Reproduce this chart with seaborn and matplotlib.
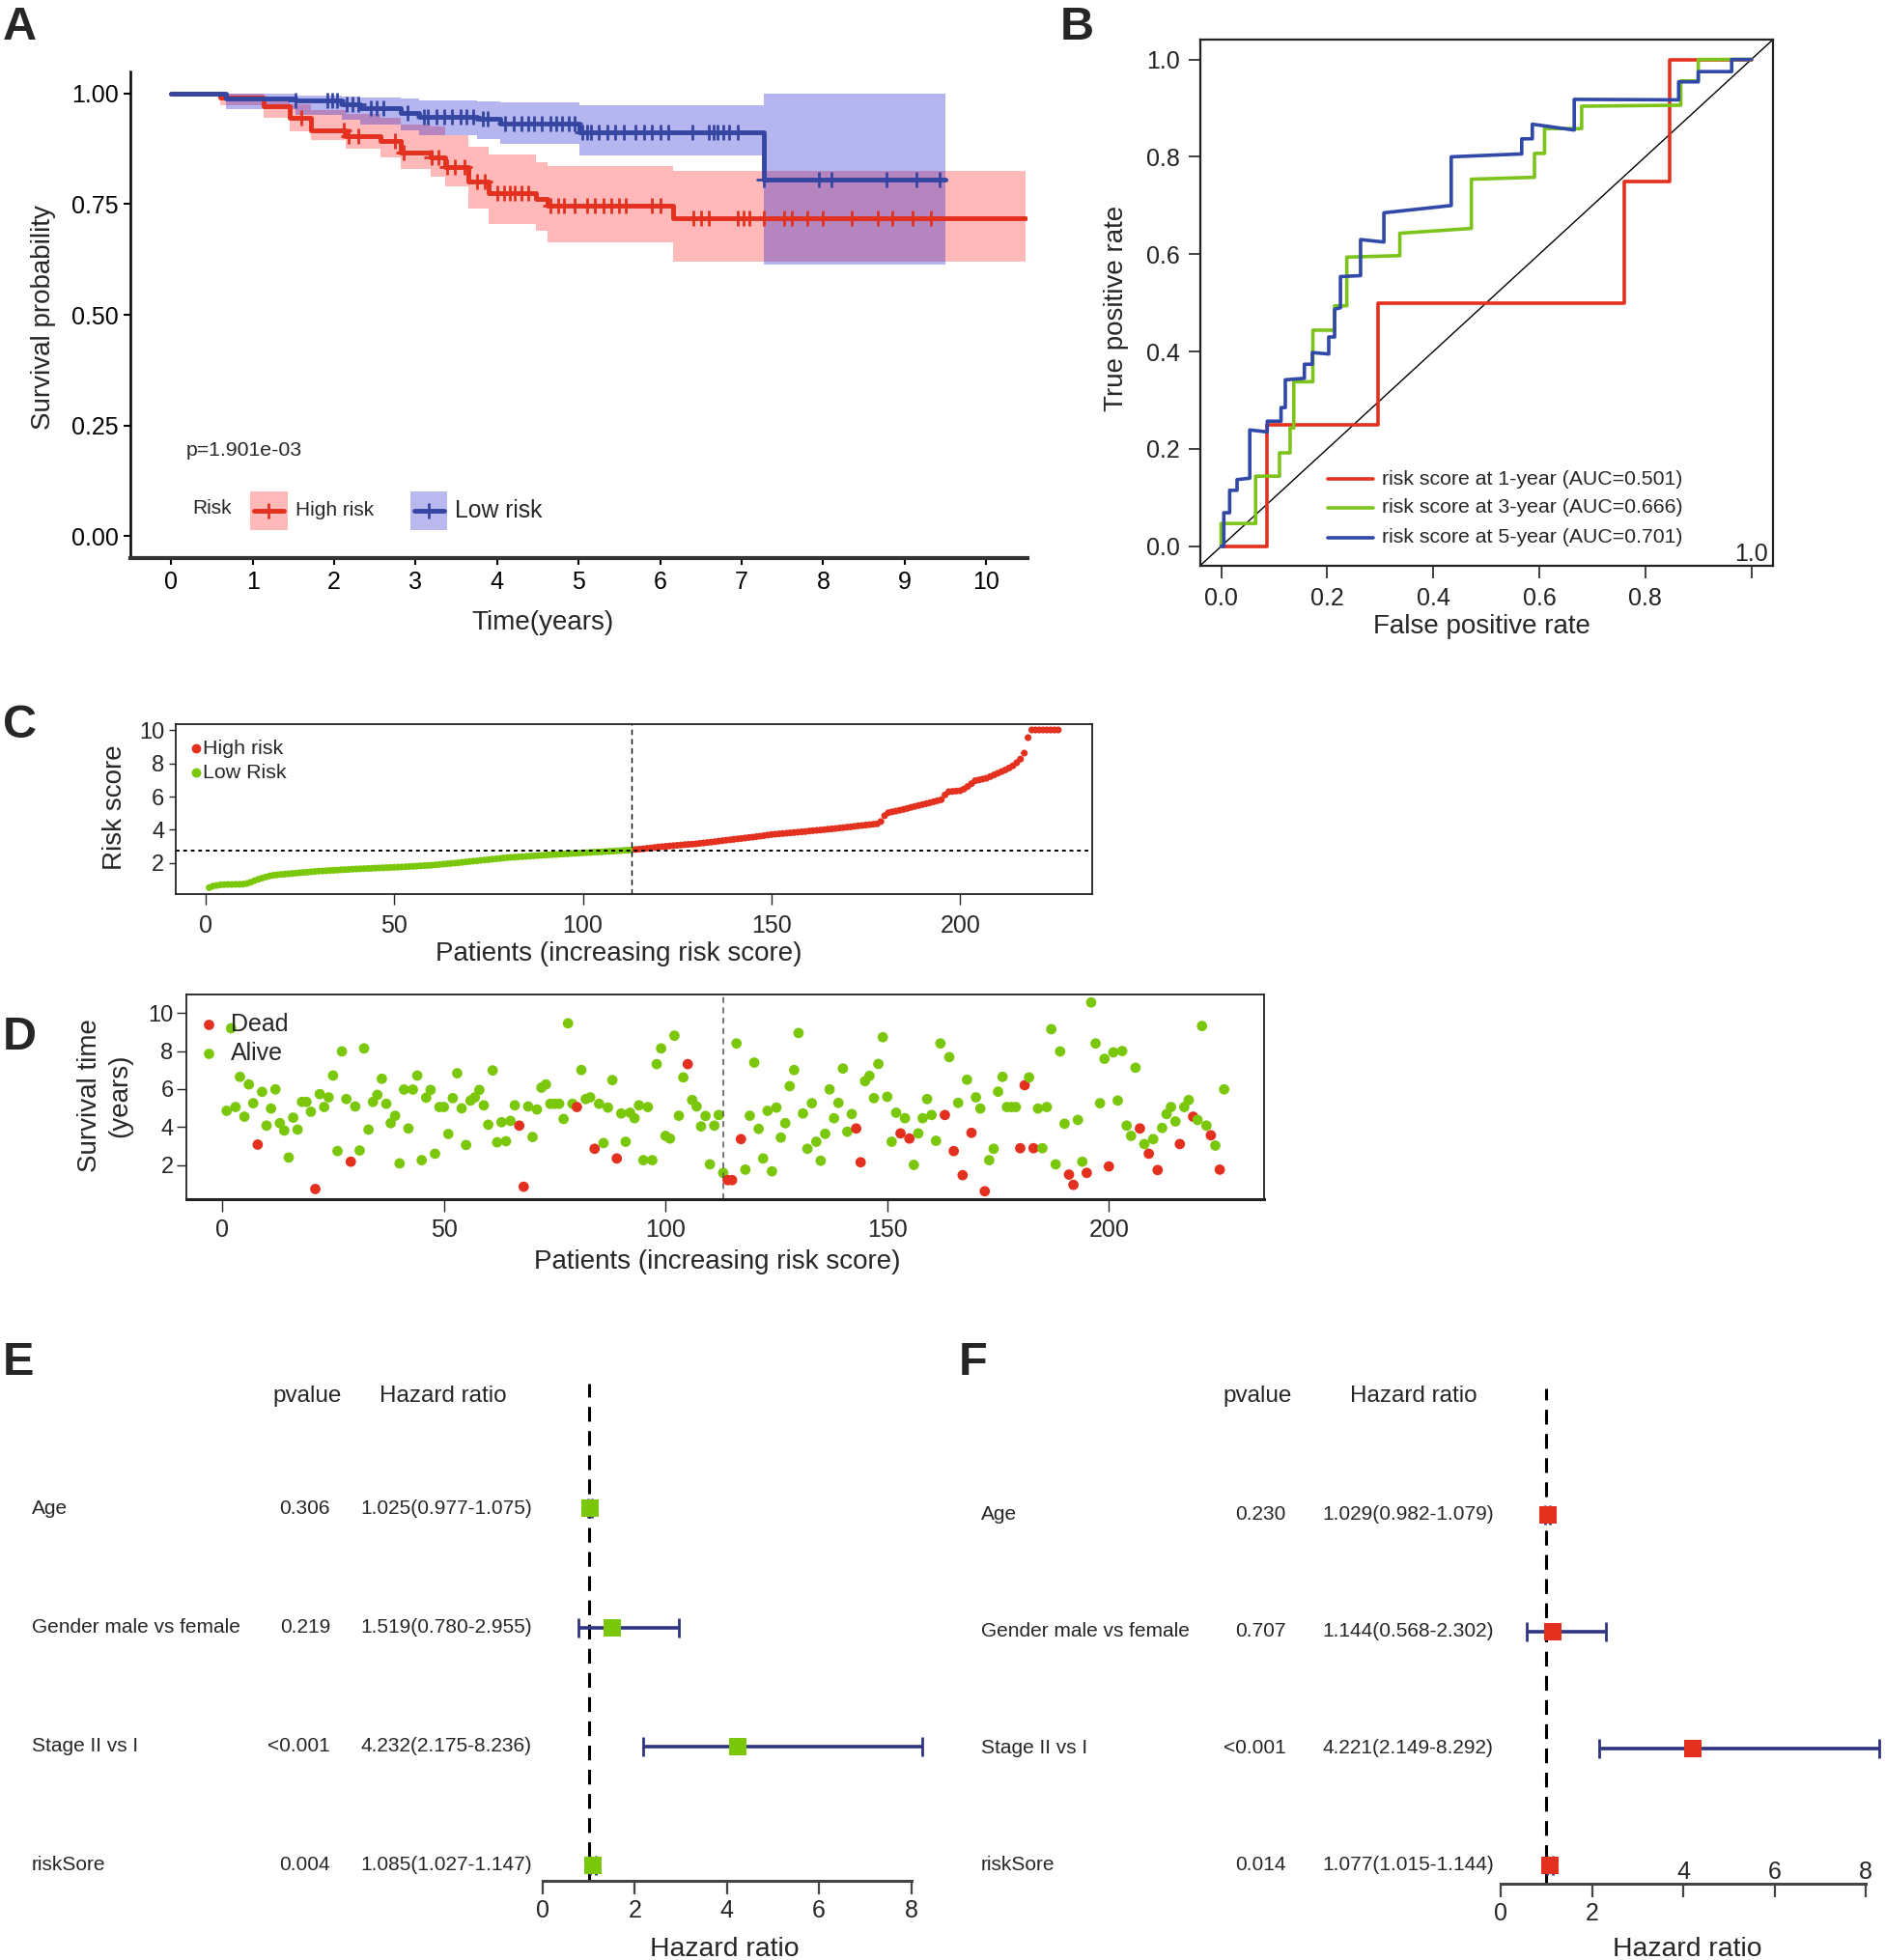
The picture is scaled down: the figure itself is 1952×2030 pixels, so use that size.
import numpy as np
import pandas as pd
import matplotlib
matplotlib.use('Agg')
import matplotlib.pyplot as plt
import matplotlib.transforms as mtransforms
from matplotlib.patches import Rectangle
from matplotlib.lines import Line2D
import seaborn as sns

sns.set_style('ticks')
plt.rcParams['font.family'] = ['Liberation Sans', 'DejaVu Sans']

RED = '#E3301F'
BLUE = '#3445A2'
GREEN = '#7AC70C'
NAVY = '#2E3480'

# ---------------- A: Kaplan-Meier ----------------
high_t = [0, 0.60, 1.13, 1.46, 1.71, 2.14, 2.57, 2.82, 3.18, 3.36, 3.65, 3.90, 4.47, 4.62, 6.16, 10.48]
high_s = [1.0, 0.99, 0.972, 0.946, 0.917, 0.903, 0.892, 0.867, 0.856, 0.834, 0.801, 0.776, 0.762, 0.747, 0.718, 0.718]
high_lo = [1.0, 0.973, 0.945, 0.915, 0.895, 0.875, 0.855, 0.83, 0.812, 0.79, 0.74, 0.705, 0.69, 0.664, 0.62, 0.62]
high_hi = [1.0, 1.0, 0.985, 0.975, 0.962, 0.955, 0.946, 0.93, 0.925, 0.905, 0.88, 0.862, 0.845, 0.837, 0.825, 0.825]
high_cens = [1.6, 2.12, 2.18, 2.3, 2.75, 2.85, 3.2, 3.28, 3.38, 3.48, 3.6, 3.75, 3.85, 4.0, 4.08, 4.15,
             4.22, 4.3, 4.38, 4.65, 4.75, 4.82, 4.95, 5.1, 5.2, 5.3, 5.4, 5.5, 5.58, 5.9, 6.0, 6.41, 6.5,
             6.6, 6.95, 7.02, 7.09, 7.27, 7.52, 7.62, 7.8, 7.99, 8.35, 8.67, 8.85, 9.1, 9.32]

low_t = [0, 0.67, 1.53, 2.10, 2.32, 2.82, 3.04, 3.75, 4.04, 5.01, 7.27, 9.50]
low_s = [1.0, 0.988, 0.985, 0.975, 0.967, 0.957, 0.948, 0.943, 0.933, 0.912, 0.805, 0.805]
low_lo = [1.0, 0.965, 0.952, 0.940, 0.93, 0.917, 0.905, 0.897, 0.886, 0.861, 0.613, 0.613]
low_hi = [1.0, 1.0, 0.995, 0.993, 0.99, 0.988, 0.985, 0.982, 0.98, 0.973, 1.0, 1.0]
low_cens = [1.53, 1.92, 1.98, 2.03, 2.15, 2.22, 2.3, 2.45, 2.52, 2.6, 2.9, 3.1, 3.15, 3.25, 3.35, 3.45,
            3.55, 3.62, 3.7, 3.82, 3.88, 4.1, 4.2, 4.3, 4.38, 4.45, 4.55, 4.65, 4.72, 4.8, 4.88, 4.95,
            5.05, 5.1, 5.15, 5.25, 5.35, 5.45, 5.55, 5.7, 5.8, 5.9, 6.0, 6.1, 6.4, 6.6, 6.65, 6.7, 6.78,
            6.85, 6.95, 7.27, 7.95, 8.1, 8.78, 9.14, 9.43]

# ---------------- B: time-dependent ROC ----------------
roc1_fpr = [0, 0.087, 0.087, 0.295, 0.295, 0.76, 0.76, 0.846, 0.846, 1.0]
roc1_tpr = [0, 0, 0.25, 0.25, 0.5, 0.5, 0.75, 0.75, 1.0, 1.0]
roc3_fpr = [0, 0, 0.065, 0.065, 0.11, 0.11, 0.13, 0.13, 0.137, 0.137, 0.173, 0.173, 0.214, 0.214,
            0.237, 0.237, 0.337, 0.337, 0.472, 0.472, 0.591, 0.591, 0.61, 0.61, 0.68, 0.68, 0.867,
            0.867, 0.90, 0.90, 1.0]
roc3_tpr = [0, 0.047, 0.047, 0.144, 0.144, 0.192, 0.192, 0.243, 0.243, 0.338, 0.338, 0.444, 0.444,
            0.494, 0.494, 0.594, 0.597, 0.643, 0.653, 0.754, 0.758, 0.807, 0.807, 0.858, 0.858, 0.904,
            0.906, 0.956, 0.956, 1.0, 1.0]
roc5_fpr = [0, 0.005, 0.005, 0.016, 0.016, 0.03, 0.03, 0.054, 0.054, 0.087, 0.087, 0.113, 0.113,
            0.121, 0.121, 0.157, 0.157, 0.172, 0.172, 0.203, 0.203, 0.214, 0.214, 0.225, 0.225, 0.263,
            0.263, 0.307, 0.307, 0.434, 0.434, 0.567, 0.567, 0.587, 0.587, 0.666, 0.666, 0.863, 0.863,
            0.90, 0.90, 0.963, 0.963, 1.0]
roc5_tpr = [0, 0.0, 0.069, 0.069, 0.115, 0.115, 0.137, 0.14, 0.239, 0.235, 0.257, 0.257, 0.285,
            0.285, 0.342, 0.345, 0.374, 0.374, 0.398, 0.395, 0.43, 0.43, 0.487, 0.49, 0.554, 0.556,
            0.63, 0.625, 0.685, 0.70, 0.80, 0.806, 0.837, 0.837, 0.867, 0.855, 0.918, 0.917, 0.954,
            0.954, 0.975, 0.975, 1.0, 1.0]
roc_years = [1, 3, 5]
roc_auc = [0.501, 0.666, 0.701]

# ---------------- C: risk score per patient ----------------
risk_score = [
    0.53, 0.62, 0.66, 0.70, 0.71, 0.72, 0.72, 0.73, 0.73, 0.74,
    0.78, 0.85, 0.95, 1.03, 1.10, 1.17, 1.23, 1.27, 1.30, 1.32,
    1.34, 1.36, 1.38, 1.40, 1.42, 1.44, 1.46, 1.48, 1.50, 1.52,
    1.53, 1.54, 1.56, 1.57, 1.58, 1.60, 1.61, 1.62, 1.64, 1.65,
    1.66, 1.67, 1.68, 1.69, 1.70, 1.71, 1.72, 1.73, 1.74, 1.75,
    1.76, 1.77, 1.78, 1.80, 1.81, 1.82, 1.84, 1.85, 1.86, 1.88,
    1.90, 1.92, 1.94, 1.96, 1.98, 2.00, 2.02, 2.05, 2.07, 2.10,
    2.12, 2.14, 2.17, 2.19, 2.21, 2.24, 2.26, 2.28, 2.31, 2.33,
    2.35, 2.36, 2.38, 2.39, 2.41, 2.42, 2.44, 2.45, 2.47, 2.48,
    2.50, 2.51, 2.52, 2.54, 2.55, 2.56, 2.58, 2.59, 2.60, 2.62,
    2.63, 2.64, 2.66, 2.67, 2.68, 2.70, 2.71, 2.72, 2.74, 2.75,
    2.77, 2.78, 2.80,
    2.82, 2.84, 2.86, 2.89, 2.91, 2.94, 2.97,
    2.99, 3.01, 3.03, 3.05, 3.07, 3.09, 3.11, 3.13, 3.14, 3.16,
    3.19, 3.21, 3.24, 3.26, 3.29, 3.32, 3.35, 3.38, 3.40, 3.43,
    3.46, 3.48, 3.51, 3.54, 3.56, 3.59, 3.62, 3.65, 3.69, 3.72,
    3.74, 3.76, 3.78, 3.80, 3.82, 3.84, 3.86, 3.88, 3.90, 3.93,
    3.95, 3.97, 3.99, 4.01, 4.04, 4.06, 4.08, 4.11, 4.13, 4.16,
    4.18, 4.21, 4.24, 4.26, 4.29, 4.31, 4.34, 4.36, 4.50, 4.85,
    5.03, 5.08, 5.13, 5.18, 5.23, 5.29, 5.35, 5.41, 5.46, 5.52,
    5.57, 5.63, 5.69, 5.75, 5.81, 6.10, 6.29, 6.31, 6.33, 6.35,
    6.45, 6.60, 6.77, 6.95, 7.00, 7.05, 7.10, 7.20, 7.30, 7.40,
    7.50, 7.60, 7.72, 7.85, 8.03, 8.25, 8.61, 9.54, 10.0, 10.0,
    10.0, 10.0, 10.0, 10.0, 10.0, 10.0]
n_low = 113
risk_cutoff = 2.78

# ---------------- D: survival time / status ----------------
surv_time = [
    4.85, 9.20, 5.05, 6.64, 4.54, 6.24, 5.25, 3.07, 5.85, 4.07,
    4.97, 5.98, 4.20, 3.81, 2.39, 4.49, 3.86, 5.32, 5.32, 4.80,
    0.73, 5.73, 5.05, 5.56, 6.71, 2.73, 7.98, 5.47, 2.17, 5.08,
    2.76, 8.14, 3.86, 5.32, 5.69, 6.54, 5.22, 4.20, 4.59, 2.08,
    5.97, 3.92, 5.97, 6.71, 2.25, 5.54, 5.95, 2.59, 5.05, 5.05,
    3.63, 5.52, 6.83, 4.98, 3.05, 5.39, 5.56, 5.95, 5.14, 4.12,
    6.98, 3.19, 4.25, 3.25, 4.32, 5.14, 4.07, 0.85, 5.08, 3.47,
    4.92, 6.07, 6.24, 5.22, 5.22, 5.22, 4.42, 9.46, 5.22, 5.05,
    7.00, 5.47, 5.56, 2.85, 5.22, 3.15, 5.02, 6.47, 2.34, 4.71,
    3.22, 4.75, 4.46, 5.14, 2.25, 5.05, 2.25, 7.31, 8.14, 3.53,
    3.39, 8.81, 4.59, 6.61, 7.31, 5.42, 5.08, 4.03, 4.58, 2.03,
    4.07, 4.63, 1.58, 1.20, 1.20, 8.40, 3.36, 1.75, 4.59, 7.39,
    3.90, 2.34, 4.85, 1.66, 5.02, 3.44, 4.20, 6.15, 7.00, 8.95,
    4.71, 2.85, 5.25, 3.22, 2.22, 3.64, 5.98, 4.46, 5.27, 7.08,
    3.75, 4.68, 3.92, 2.14, 6.41, 6.69, 5.52, 7.32, 8.73, 5.59,
    3.22, 4.75, 3.66, 4.46, 3.39, 2.00, 3.66, 4.46, 5.47, 4.63,
    3.27, 8.40, 4.63, 7.68, 2.73, 5.27, 1.46, 6.49, 3.69, 5.56,
    4.97, 0.61, 2.25, 2.85, 5.86, 6.64, 5.05, 5.05, 5.05, 2.88,
    6.20, 6.61, 2.88, 4.97, 2.88, 5.05, 9.15, 2.03, 7.98, 4.17,
    1.49, 0.95, 4.37, 2.17, 1.58, 10.56, 8.40, 5.25, 7.59, 1.92,
    7.93, 5.39, 8.00, 4.07, 3.53, 7.12, 3.92, 3.10, 2.59, 3.36,
    1.73, 3.95, 4.68, 5.05, 4.29, 3.10, 5.05, 5.42, 4.54, 4.37,
    9.32, 4.07, 3.56, 3.02, 1.75, 5.98]
dead = [
    0, 0, 0, 0, 0, 0, 0, 1, 0, 0,
    0, 0, 0, 0, 0, 0, 0, 0, 0, 0,
    1, 0, 0, 0, 0, 0, 0, 0, 1, 0,
    0, 0, 0, 0, 0, 0, 0, 0, 0, 0,
    0, 0, 0, 0, 0, 0, 0, 0, 0, 0,
    0, 0, 0, 0, 0, 0, 0, 0, 0, 0,
    0, 0, 0, 0, 0, 0, 1, 1, 0, 0,
    0, 0, 0, 0, 0, 0, 0, 0, 0, 1,
    0, 0, 0, 1, 0, 0, 0, 0, 1, 0,
    0, 0, 0, 0, 0, 0, 0, 0, 0, 0,
    0, 0, 0, 0, 1, 0, 0, 0, 0, 0,
    0, 0, 0, 1, 1, 0, 1, 0, 0, 0,
    0, 0, 0, 0, 0, 0, 0, 0, 0, 0,
    0, 0, 0, 0, 0, 0, 0, 0, 0, 0,
    0, 0, 1, 1, 0, 0, 0, 0, 0, 0,
    0, 0, 1, 0, 1, 0, 0, 0, 0, 0,
    0, 0, 1, 0, 1, 0, 1, 0, 1, 0,
    0, 1, 0, 0, 0, 0, 0, 0, 0, 1,
    1, 0, 1, 0, 0, 0, 0, 0, 0, 0,
    1, 1, 0, 0, 1, 0, 0, 0, 0, 1,
    0, 0, 0, 0, 0, 0, 1, 0, 1, 0,
    1, 0, 0, 0, 0, 1, 0, 0, 1, 0,
    0, 0, 1, 0, 1, 0]

# ---------------- E / F: Cox regression ----------------
cox_vars = ['Age', 'Gender male vs female', 'Stage II vs I', 'riskSore']
uni_p = ['0.306', '0.219', '<0.001', '0.004']
uni_hr = [1.025, 1.519, 4.232, 1.085]
uni_lo = [0.977, 0.780, 2.175, 1.027]
uni_hi = [1.075, 2.955, 8.236, 1.147]
multi_p = ['0.230', '0.707', '<0.001', '0.014']
multi_hr = [1.029, 1.144, 4.221, 1.077]
multi_lo = [0.982, 0.568, 2.149, 1.015]
multi_hi = [1.079, 2.302, 8.292, 1.144]

W, H = 1952, 2030
fig = plt.figure(figsize=(W / 100, H / 100), dpi=100)


def rect(l, t, r, b):
    return [l / W, 1 - b / H, (r - l) / W, (b - t) / H]


def ftext(x, y, s, **kw):
    return fig.text(x / W, 1 - y / H, s, **kw)


def step_at(t, s, q):
    idx = np.searchsorted(t, q, side='right') - 1
    return np.asarray(s)[idx]


# panel letters
for lab, x, y in [('A', 2.6, 41.4), ('B', 1097.6, 41.4), ('C', 2.6, 763.7),
                  ('D', 2.6, 1087), ('E', 2.6, 1423.8), ('F', 992.8, 1423.8)]:
    ftext(x, y, lab, fontsize=35, fontweight='bold', va='baseline', ha='left')

# ---- A
axA = fig.add_axes(rect(135, 74, 1063.5, 578))
axA.fill_between(high_t, high_lo, high_hi, step='post', color='#FF1A1A', alpha=0.3, lw=0)
sns.lineplot(x=high_t, y=high_s, drawstyle='steps-post', color=RED, lw=3.5, ax=axA,
             estimator=None, sort=False)
axA.plot(high_cens, step_at(high_t, high_s, high_cens), '+', color=RED, ms=11, mew=2)
axA.fill_between(low_t, low_lo, low_hi, step='post', color='#1A1AD0', alpha=0.32, lw=0)
sns.lineplot(x=low_t, y=low_s, drawstyle='steps-post', color=BLUE, lw=3.5, ax=axA,
             estimator=None, sort=False)
axA.plot(low_cens, step_at(low_t, low_s, low_cens), '+', color=BLUE, ms=11, mew=2)
axA.set_xlim(-0.5, 10.5)
axA.set_ylim(-0.05, 1.05)
axA.set_xticks(range(0, 11))
axA.set_yticks([0, 0.25, 0.5, 0.75, 1.0])
axA.set_yticklabels(['0.00', '0.25', '0.50', '0.75', '1.00'])
sns.despine(ax=axA)
axA.spines['left'].set_linewidth(1.8)
axA.spines['bottom'].set_linewidth(3.0)
axA.spines['left'].set_color('black')
axA.spines['bottom'].set_color('#333333')
axA.tick_params(length=5, width=1.5, labelsize=18, pad=4, colors='black')
axA.set_xlabel('')
axA.set_ylabel('')
ftext(561.8, 644.6, 'Time(years)', fontsize=20, ha='center', va='center')
ftext(45.3, 328.8, 'Survival probability', fontsize=20, ha='center', va='center', rotation=90)
ftext(193, 466, 'p=1.901e-03', fontsize=15.3, va='center')
ftext(220, 527, 'Risk', fontsize=15, ha='center', va='center')
for (x0, col, fill, lab, fs) in [(258.9, RED, '#FF1A1A', 'High risk', 15),
                                 (424.6, BLUE, '#1A1AD0', 'Low risk', 17.8)]:
    fig.add_artist(Rectangle((x0 / W, 1 - 548.8 / H), 38.8 / W, 40.1 / H,
                             transform=fig.transFigure, color=fill, alpha=0.3, lw=0))
    yc = 1 - 528.7 / H
    fig.add_artist(Line2D([(x0 + 4) / W, (x0 + 35) / W], [yc, yc], color=col, lw=3.5,
                          transform=fig.transFigure))
    fig.add_artist(Line2D([(x0 + 19.4) / W], [yc], marker='+', ms=11, mew=2, color=col,
                          transform=fig.transFigure))
    ftext(x0 + 46.6, 528.7, lab, fontsize=fs, va='center')

# ---- B
axB = fig.add_axes(rect(1242.6, 41.4, 1835.5, 586))
axB.plot([-0.04, 1.04], [-0.04, 1.04], color='black', lw=1)
roc_cols = [RED, '#7CC41C', '#3048A8']
for fpr, tpr, col in zip([roc1_fpr, roc3_fpr, roc5_fpr], [roc1_tpr, roc3_tpr, roc5_tpr], roc_cols):
    sns.lineplot(x=fpr, y=tpr, sort=False, estimator=None, color=col, lw=2.6, ax=axB)
axB.set_xlim(-0.04, 1.04)
axB.set_ylim(-0.04, 1.04)
axB.set_xticks(np.arange(0, 1.01, 0.2))
axB.set_xticklabels(['0.0', '0.2', '0.4', '0.6', '0.8', ''])
axB.set_yticks(np.arange(0, 1.01, 0.2))
axB.set_yticklabels(['0.0', '0.2', '0.4', '0.6', '0.8', '1.0'])
axB.text(1.0, -0.04, '1.0', ha='center', va='bottom', fontsize=18)
for sp in axB.spines.values():
    sp.set_linewidth(1.6)
    sp.set_color('#222222')
axB.tick_params(length=9, width=1.2, labelsize=18, colors='#222222')
axB.tick_params(axis='x', pad=7)
axB.tick_params(axis='y', pad=6)
axB.set_xlabel('')
axB.set_ylabel('')
ftext(1534, 648.5, 'False positive rate', fontsize=20, ha='center', va='center')
ftext(1156, 319.7, 'True positive rate', fontsize=20, ha='center', va='center', rotation=90)
for yr, auc, col, ly in zip(roc_years, roc_auc, roc_cols, [496, 525.7, 556.8]):
    yy = 1 - ly / H
    fig.add_artist(Line2D([1374.5 / W, 1422 / W], [yy, yy], color=col, lw=2.6,
                          transform=fig.transFigure))
    ftext(1431, ly, f'risk score at {yr}-year (AUC={auc:.3f})', fontsize=15.3, va='center')

# ---- C
patients = np.arange(1, len(risk_score) + 1)
dfC = pd.DataFrame({'patient': patients, 'risk': risk_score,
                    'group': np.where(patients <= n_low, 'Low Risk', 'High risk')})
axC = fig.add_axes(rect(181.5, 750, 1131, 925.7))
sns.scatterplot(data=dfC, x='patient', y='risk', hue='group',
                palette={'Low Risk': GREEN, 'High risk': RED}, s=26, linewidth=0,
                legend=False, ax=axC)
axC.axvline(n_low, ls=(0, (4, 3)), color='black', lw=1)
axC.axhline(risk_cutoff, ls=(0, (2, 2)), color='black', lw=1.4)
axC.set_xlim(-8, 235)
axC.set_ylim(0.16, 10.35)
axC.set_xticks([0, 50, 100, 150, 200])
axC.set_yticks([2, 4, 6, 8, 10])
for sp in axC.spines.values():
    sp.set_linewidth(1.3)
    sp.set_color('#222222')
axC.tick_params(axis='x', length=8, width=1, labelsize=18, pad=7)
axC.tick_params(axis='y', length=5, width=1, labelsize=17, pad=3)
axC.set_xlabel('')
axC.set_ylabel('')
for (lab, col, ly) in [('High risk', RED, 775.3), ('Low Risk', GREEN, 800)]:
    axC.scatter([(203 - 181.5) / 949.5], [(925.7 - ly) / 175.7], s=50, color=col,
                transform=axC.transAxes, lw=0)
    axC.text((210 - 181.5) / 949.5, (925.7 - ly) / 175.7, lab, transform=axC.transAxes,
             fontsize=15.4, va='center')
ftext(640.7, 987.6, 'Patients (increasing risk score)', fontsize=20, ha='center', va='center')
ftext(119, 836.2, 'Risk score', fontsize=20, ha='center', va='center', rotation=90)

# ---- D
dfD = pd.DataFrame({'patient': patients, 'time': surv_time,
                    'status': np.where(np.array(dead) == 1, 'Dead', 'Alive')})
axD = fig.add_axes(rect(193.4, 1030, 1309, 1241.5))
sns.scatterplot(data=dfD, x='patient', y='time', hue='status',
                palette={'Dead': RED, 'Alive': GREEN}, s=60, linewidth=0, legend=False, ax=axD)
axD.axvline(n_low, ls=(0, (4, 3)), color='#555555', lw=1.1)
axD.set_xlim(-8, 235)
axD.set_ylim(0.22, 10.98)
axD.set_xticks([0, 50, 100, 150, 200])
axD.set_yticks([2, 4, 6, 8, 10])
for sp in axD.spines.values():
    sp.set_linewidth(1.3)
    sp.set_color('#222222')
axD.spines['bottom'].set_linewidth(2.2)
axD.tick_params(axis='x', length=9, width=1, labelsize=18, pad=6)
axD.tick_params(axis='y', length=7, width=1, labelsize=17, pad=3)
axD.set_xlabel('')
axD.set_ylabel('')
for (lab, col, ly) in [('Dead', RED, 1061.4), ('Alive', GREEN, 1091.2)]:
    axD.scatter([(216 - 193.4) / 1115.6], [(1241.5 - ly) / 211.5], s=60, color=col,
                transform=axD.transAxes, lw=0)
    axD.text((239 - 193.4) / 1115.6, (1241.5 - ly) / 211.5, lab, transform=axD.transAxes,
             fontsize=18, va='center')
ftext(743, 1307.3, 'Patients (increasing risk score)', fontsize=20, ha='center', va='center')
ftext(108.7, 1135, 'Survival time\n(years)', fontsize=20, ha='center', va='center',
      rotation=90, linespacing=1.25)


# ---- E / F forest plots
def forest(box, ylim, hr, lo, hi, pv, sq_col, xs, hdr_x, xlab_x, up_labels=False):
    ax = fig.add_axes(rect(*box))
    rows = np.array([4, 3, 2, 1])
    hr, lo, hi = np.array(hr), np.array(lo), np.array(hi)
    ax.axvline(1, color='black', ls=(0, (5, 3.2)), lw=2.2, zorder=1)
    ax.errorbar(hr, rows, xerr=[hr - lo, hi - hr], fmt='none', ecolor=NAVY, elinewidth=2.6,
                capsize=7, capthick=2, clip_on=False, zorder=2)
    sns.scatterplot(x=hr, y=rows, marker='s', color=sq_col, s=150, linewidth=0, ax=ax,
                    zorder=3, clip_on=False)
    ax.set_xlim(0, 8)
    ax.set_ylim(*ylim)
    ax.set_yticks([])
    ax.set_xticks([0, 2, 4, 6, 8])
    if up_labels:
        ax.set_xticklabels(['0', '2', '', '', ''])
        for v in [4, 6, 8]:
            ax.text(v, ylim[0], str(v), ha='center', va='bottom', fontsize=18)
    for s in ['left', 'top', 'right']:
        ax.spines[s].set_visible(False)
    ax.spines['bottom'].set_linewidth(2.2)
    ax.spines['bottom'].set_color('#444444')
    ax.tick_params(axis='x', length=10, width=1.6, labelsize=18, pad=4, color='#444444')
    ax.set_xlabel('')
    ax.set_ylabel('')
    trans = mtransforms.blended_transform_factory(fig.transFigure, ax.transData)
    for name, p, h, l, u, r in zip(cox_vars, pv, hr, lo, hi, rows):
        ax.text(xs[0] / W, r, name, transform=trans, ha='left', va='center', fontsize=15)
        ax.text(xs[1] / W, r, p, transform=trans, ha='right', va='center', fontsize=15)
        ax.text(xs[2] / W, r, f'{h:.3f}({l:.3f}-{u:.3f})', transform=trans, ha='left',
                va='center', fontsize=15)
    ftext(hdr_x[0], 1445.6, 'pvalue', fontsize=17.5, ha='center', va='center')
    ftext(hdr_x[1], 1445.6, 'Hazard ratio', fontsize=17.5, ha='center', va='center')
    ftext(xlab_x, 2006, 'Hazard ratio', fontsize=20.4, ha='center', va='top')
    return ax


axE = forest((562, 1433, 943.5, 1947.6), (0.873, 5.05), uni_hr, uni_lo, uni_hi, uni_p, GREEN,
             (32.7, 342, 373.7), (318.5, 459), 750.6)
axF = forest((1554, 1438, 1932, 1950.5), (0.847, 5.08), multi_hr, multi_lo, multi_hi, multi_p,
             RED, (1016, 1332, 1369), (1302, 1464), 1747.5, up_labels=True)

fig.savefig('out.png', dpi=100)
